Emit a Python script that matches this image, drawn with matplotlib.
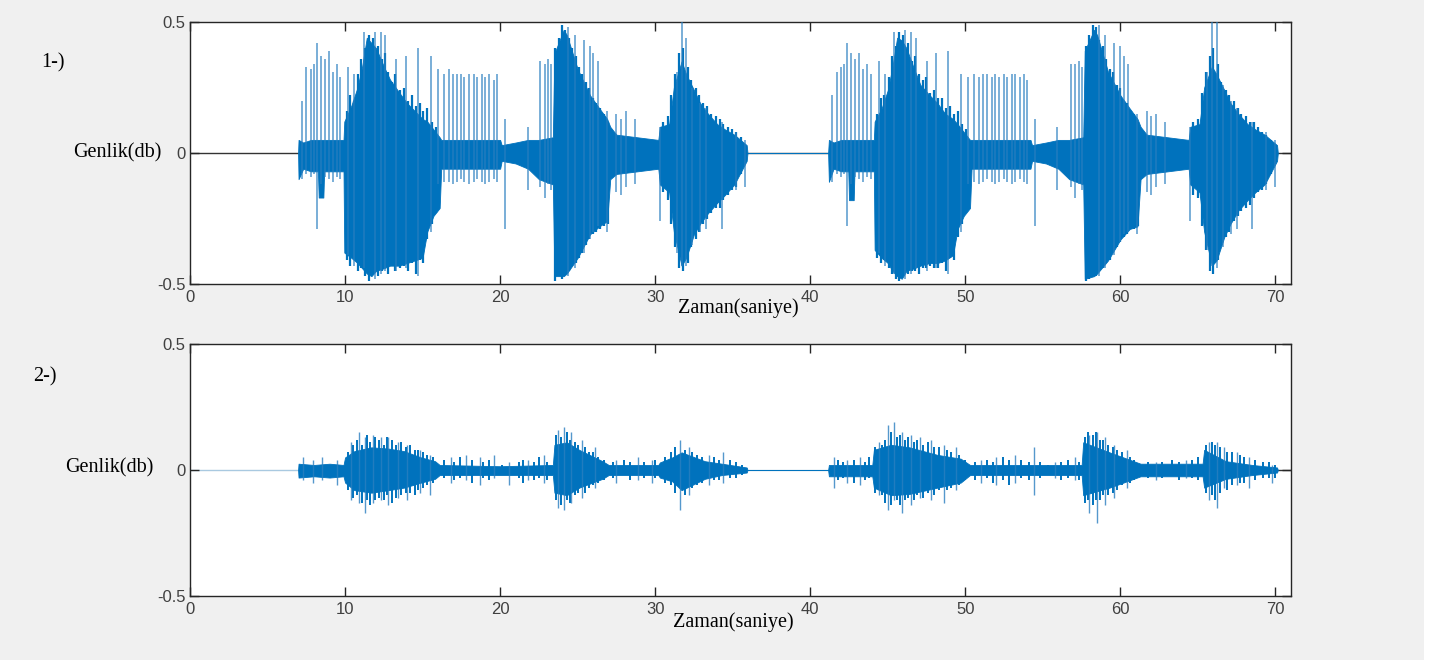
import numpy as np
import matplotlib
matplotlib.use("Agg")
import matplotlib.pyplot as plt

## DATA ##

# upper panel (1-): envelope of the dense part of the signal
top_env_t = [6.97, 7.00, 7.30, 7.80, 8.25, 8.30, 8.60, 8.65, 9.90, 9.95, 10.4, 10.8, 11.1, 11.4, 11.7,
             12.0, 12.5, 12.9, 13.5, 14.0, 14.5, 15.0, 15.3, 15.7, 16.1, 16.2, 20.0, 20.1, 21.0, 21.8,
             22.5, 23.4, 23.5, 24.1, 24.3, 25.0, 25.8, 26.4, 26.9, 27.1, 27.5, 30.2, 30.3, 30.9, 31.2,
             31.7, 32.0, 32.5, 32.9, 33.4, 34.0, 34.5, 35.1, 35.9, 35.95,
             41.15, 41.20, 41.50, 42.00, 42.45, 42.50, 42.80, 42.85, 44.10, 44.15, 44.6, 45.0, 45.3,
             45.6, 45.9, 46.2, 46.7, 47.1, 47.7, 48.2, 48.7, 49.2, 49.5, 49.9, 50.3, 50.4, 54.2, 54.3,
             55.2, 56.0, 56.7, 57.6, 57.7, 58.3, 58.5, 59.2, 60.0, 60.6, 61.1, 61.3, 61.7, 64.4, 64.5,
             65.1, 65.4, 65.9, 66.2, 66.7, 67.1, 67.6, 68.2, 68.7, 69.3, 70.1, 70.15]
top_env_hi = [0.00, 0.05, 0.04, 0.05, 0.05, 0.05, 0.05, 0.05, 0.05, 0.12, 0.18, 0.25, 0.33, 0.44, 0.42,
              0.40, 0.33, 0.28, 0.23, 0.19, 0.16, 0.13, 0.12, 0.09, 0.06, 0.05, 0.05, 0.03, 0.04, 0.05,
              0.05, 0.06, 0.38, 0.47, 0.45, 0.32, 0.22, 0.17, 0.13, 0.10, 0.07, 0.05, 0.10, 0.11, 0.25,
              0.35, 0.30, 0.24, 0.19, 0.15, 0.11, 0.09, 0.07, 0.03, 0.00,
              0.00, 0.05, 0.04, 0.05, 0.05, 0.05, 0.05, 0.05, 0.05, 0.12, 0.17, 0.24, 0.33,
              0.44, 0.43, 0.40, 0.32, 0.26, 0.22, 0.19, 0.15, 0.13, 0.11, 0.08, 0.05, 0.05, 0.05, 0.03,
              0.04, 0.05, 0.05, 0.06, 0.39, 0.47, 0.45, 0.31, 0.22, 0.17, 0.13, 0.10, 0.07, 0.05, 0.10,
              0.11, 0.25, 0.33, 0.30, 0.24, 0.19, 0.15, 0.11, 0.09, 0.07, 0.03, 0.00]
top_env_lo = [0.00, -0.10, -0.06, -0.07, -0.07, -0.17, -0.17, -0.07, -0.07, -0.38, -0.40, -0.42, -0.44, -0.46, -0.47,
              -0.45, -0.44, -0.43, -0.43, -0.42, -0.41, -0.40, -0.30, -0.24, -0.21, -0.06, -0.06, -0.03, -0.04, -0.06,
              -0.10, -0.12, -0.47, -0.47, -0.46, -0.40, -0.31, -0.28, -0.26, -0.10, -0.08, -0.06, -0.12, -0.15, -0.30,
              -0.43, -0.40, -0.31, -0.27, -0.23, -0.19, -0.16, -0.12, -0.03, 0.00,
              0.00, -0.11, -0.06, -0.07, -0.07, -0.18, -0.18, -0.07, -0.07, -0.37, -0.40, -0.42, -0.45,
              -0.47, -0.48, -0.45, -0.44, -0.43, -0.42, -0.42, -0.41, -0.39, -0.29, -0.24, -0.21, -0.06, -0.06, -0.03,
              -0.04, -0.06, -0.10, -0.12, -0.48, -0.47, -0.46, -0.41, -0.33, -0.29, -0.28, -0.10, -0.08, -0.06, -0.12,
              -0.15, -0.30, -0.43, -0.41, -0.32, -0.27, -0.22, -0.18, -0.15, -0.12, -0.03, 0.00]

# upper panel: single tall spikes sticking out of the envelope
top_spk_t = [7.2, 7.5, 7.8, 8.0, 8.2, 8.45, 8.7, 8.95, 9.2, 9.45, 9.7, 10.2, 10.6, 11.2, 11.9, 12.3, 12.6,
             13.3, 13.9, 14.7, 15.55, 16.0, 16.35, 16.7, 16.96, 17.2, 17.5, 17.7, 18.0, 18.3, 18.5, 18.8,
             19.0, 19.3, 19.6, 19.8, 20.3, 21.8, 22.6, 22.9, 23.1, 23.3, 24.4, 24.8, 25.4, 25.8, 26.0,
             26.3, 26.9, 27.5, 27.8, 28.1, 28.7, 30.3, 31.4, 31.7, 32.0, 32.4, 32.9, 33.3, 34.3, 35.2, 35.8,
             41.4, 41.7, 42.0, 42.2, 42.4, 42.65, 42.9, 43.15, 43.4, 43.65, 43.9, 44.4, 44.8, 45.4, 46.1,
             46.5, 46.8, 47.5, 48.1, 48.9, 49.75, 50.2, 50.55, 50.9, 51.15, 51.4, 51.7, 51.9, 52.2, 52.5,
             52.7, 53.0, 53.2, 53.5, 53.8, 54.0, 54.5, 55.9, 56.8, 57.1, 57.3, 57.5, 58.6, 59.0, 59.6,
             60.0, 60.2, 60.5, 61.1, 61.7, 62.0, 62.3, 62.9, 64.5, 65.6, 65.9, 66.2, 66.6, 67.1, 67.5,
             68.5, 69.4, 70.0]
top_spk_hi = [0.20, 0.33, 0.32, 0.34, 0.42, 0.37, 0.36, 0.39, 0.31, 0.34, 0.29, 0.33, 0.30, 0.46, 0.46, 0.46, 0.45,
              0.36, 0.37, 0.40, 0.37, 0.32, 0.30, 0.32, 0.30, 0.30, 0.30, 0.29, 0.30, 0.30, 0.29, 0.30,
              0.29, 0.30, 0.28, 0.30, 0.13, 0.10, 0.35, 0.34, 0.36, 0.34, 0.48, 0.45, 0.43, 0.41, 0.38,
              0.35, 0.16, 0.15, 0.13, 0.16, 0.13, 0.10, 0.31, 0.50, 0.44, 0.25, 0.19, 0.17, 0.12, 0.08, 0.05,
              0.22, 0.31, 0.33, 0.34, 0.42, 0.38, 0.36, 0.38, 0.32, 0.34, 0.30, 0.35, 0.30, 0.46, 0.47,
              0.46, 0.44, 0.35, 0.38, 0.39, 0.30, 0.29, 0.30, 0.29, 0.30, 0.30, 0.29, 0.30, 0.29, 0.30,
              0.29, 0.30, 0.30, 0.29, 0.30, 0.28, 0.13, 0.10, 0.34, 0.34, 0.35, 0.33, 0.49, 0.45, 0.42,
              0.41, 0.37, 0.34, 0.15, 0.16, 0.14, 0.15, 0.12, 0.10, 0.31, 0.50, 0.50, 0.26, 0.20, 0.17,
              0.12, 0.08, 0.05]
top_spk_lo = [-0.10, -0.08, -0.09, -0.08, -0.29, -0.12, -0.09, -0.10, -0.11, -0.09, -0.10, -0.39, -0.43, -0.44, -0.48, -0.46, -0.45,
              -0.45, -0.44, -0.47, -0.30, -0.12, -0.11, -0.11, -0.12, -0.11, -0.10, -0.11, -0.12, -0.11, -0.10, -0.11,
              -0.12, -0.11, -0.10, -0.11, -0.29, -0.14, -0.13, -0.17, -0.12, -0.14, -0.47, -0.44, -0.38, -0.33, -0.30,
              -0.28, -0.30, -0.15, -0.16, -0.13, -0.12, -0.26, -0.38, -0.43, -0.43, -0.35, -0.30, -0.29, -0.29, -0.14, -0.13,
              -0.11, -0.08, -0.09, -0.08, -0.28, -0.12, -0.09, -0.10, -0.11, -0.09, -0.10, -0.38, -0.43, -0.46, -0.48,
              -0.46, -0.44, -0.45, -0.44, -0.46, -0.30, -0.12, -0.11, -0.12, -0.11, -0.10, -0.11, -0.12, -0.11, -0.10,
              -0.11, -0.12, -0.11, -0.10, -0.11, -0.12, -0.28, -0.14, -0.13, -0.17, -0.12, -0.14, -0.47, -0.44, -0.39,
              -0.34, -0.31, -0.30, -0.31, -0.15, -0.16, -0.13, -0.12, -0.26, -0.37, -0.43, -0.44, -0.36, -0.31, -0.29,
              -0.29, -0.14, -0.13]

# upper panel: denser streaks inside the six bursts (ragged edges)
top_fine_t = [10.1, 10.35, 10.55, 10.85, 11.05, 11.3, 11.55, 11.8, 12.1, 12.35, 12.55, 12.8, 13.05, 13.25,
              13.55, 13.8, 14.05, 14.3, 14.55, 14.8, 15.05, 15.3, 15.6, 15.85,
              23.55, 23.8, 24.0, 24.2, 24.45, 24.65, 24.9, 25.1, 25.3, 25.55, 25.75, 26.0, 26.2, 26.45, 26.7, 26.95,
              30.5, 30.8, 31.05, 31.3, 31.55, 31.8, 32.1, 32.3, 32.6, 32.8, 33.1, 33.35, 33.6, 33.9, 34.15,
              34.4, 34.7, 34.95, 35.2, 35.5,
              44.3, 44.55, 44.75, 45.05, 45.25, 45.5, 45.75, 46.0, 46.3, 46.55, 46.75, 47.0, 47.25, 47.45,
              47.75, 48.0, 48.25, 48.5, 48.75, 49.0, 49.25, 49.5, 49.8, 50.05,
              57.75, 58.0, 58.2, 58.4, 58.65, 58.85, 59.1, 59.3, 59.5, 59.75, 59.95, 60.2, 60.4, 60.65, 60.9, 61.15,
              64.7, 65.0, 65.25, 65.5, 65.75, 66.0, 66.3, 66.5, 66.8, 67.0, 67.3, 67.55, 67.8, 68.1, 68.35,
              68.6, 68.9, 69.15, 69.4, 69.7]
top_fine_hi = [0.16, 0.22, 0.20, 0.30, 0.36, 0.40, 0.45, 0.44, 0.41, 0.36, 0.38, 0.31, 0.27, 0.30,
               0.24, 0.25, 0.20, 0.22, 0.18, 0.19, 0.16, 0.17, 0.12, 0.10,
               0.40, 0.44, 0.49, 0.47, 0.44, 0.40, 0.37, 0.33, 0.30, 0.27, 0.25, 0.21, 0.19, 0.17, 0.15, 0.12,
               0.12, 0.14, 0.22, 0.30, 0.38, 0.40, 0.33, 0.28, 0.25, 0.22, 0.19, 0.18, 0.15, 0.14, 0.13,
               0.11, 0.10, 0.09, 0.08, 0.06,
               0.15, 0.21, 0.22, 0.29, 0.37, 0.41, 0.46, 0.45, 0.42, 0.35, 0.37, 0.30, 0.28, 0.29,
               0.23, 0.24, 0.21, 0.21, 0.17, 0.18, 0.15, 0.16, 0.11, 0.09,
               0.41, 0.45, 0.49, 0.48, 0.43, 0.41, 0.36, 0.32, 0.31, 0.26, 0.25, 0.20, 0.19, 0.16, 0.15, 0.12,
               0.12, 0.13, 0.23, 0.31, 0.37, 0.40, 0.34, 0.27, 0.24, 0.22, 0.20, 0.17, 0.15, 0.14, 0.12,
               0.12, 0.10, 0.08, 0.07, 0.05]
top_fine_lo = [-0.41, -0.43, -0.40, -0.45, -0.44, -0.47, -0.49, -0.46, -0.47, -0.45, -0.44, -0.46, -0.43, -0.45,
               -0.44, -0.43, -0.45, -0.42, -0.46, -0.41, -0.42, -0.33, -0.27, -0.23,
               -0.49, -0.47, -0.48, -0.46, -0.45, -0.43, -0.42, -0.40, -0.38, -0.35, -0.33, -0.31, -0.30, -0.29, -0.28, -0.27,
               -0.15, -0.18, -0.27, -0.36, -0.44, -0.45, -0.42, -0.36, -0.33, -0.30, -0.27, -0.25, -0.23, -0.21, -0.21,
               -0.18, -0.16, -0.14, -0.13, -0.08,
               -0.40, -0.42, -0.41, -0.44, -0.46, -0.48, -0.49, -0.47, -0.46, -0.45, -0.45, -0.46, -0.44, -0.44,
               -0.43, -0.44, -0.44, -0.42, -0.45, -0.40, -0.41, -0.32, -0.27, -0.22,
               -0.49, -0.48, -0.47, -0.47, -0.45, -0.44, -0.42, -0.41, -0.37, -0.36, -0.34, -0.32, -0.31, -0.29, -0.29, -0.28,
               -0.16, -0.17, -0.28, -0.37, -0.45, -0.46, -0.41, -0.35, -0.32, -0.30, -0.26, -0.24, -0.22, -0.21, -0.20,
               -0.17, -0.15, -0.14, -0.12, -0.08]

# lower panel (2-): envelope
bot_env_t = [6.97, 7.0, 8.0, 9.0, 9.9, 10.0, 10.6, 11.7, 12.8, 13.8, 14.9, 15.8, 16.1, 20.0, 23.4, 23.5,
             24.3, 25.1, 26.6, 27.0, 30.2, 30.3, 31.1, 31.7, 33.2, 34.3, 35.9, 35.95,
             41.15, 41.2, 44.0, 44.1, 45.2, 46.4, 48.2, 49.7, 50.3, 57.5, 57.6, 59.3, 61.3, 65.3, 65.4,
             66.8, 68.5, 70.1, 70.15]
bot_env_hi = [0.0, 0.025, 0.02, 0.025, 0.02, 0.05, 0.075, 0.09, 0.085, 0.075, 0.05, 0.035, 0.02, 0.015, 0.02, 0.10,
              0.11, 0.08, 0.035, 0.02, 0.02, 0.03, 0.05, 0.07, 0.035, 0.025, 0.01, 0.0,
              0.0, 0.02, 0.02, 0.08, 0.10, 0.09, 0.06, 0.045, 0.02, 0.02, 0.11, 0.07, 0.025, 0.025, 0.08,
              0.035, 0.02, 0.01, 0.0]
bot_env_lo = [0.0, -0.03, -0.025, -0.03, -0.025, -0.05, -0.08, -0.09, -0.08, -0.07, -0.05, -0.035, -0.02, -0.02, -0.02, -0.09,
              -0.10, -0.07, -0.035, -0.02, -0.02, -0.03, -0.045, -0.08, -0.035, -0.02, -0.01, 0.0,
              0.0, -0.025, -0.025, -0.07, -0.10, -0.095, -0.07, -0.05, -0.02, -0.02, -0.10, -0.07, -0.025, -0.025, -0.07,
              -0.035, -0.02, -0.01, 0.0]

# lower panel: spikes
bot_spk_t = [7.3, 7.9, 8.5, 9.5, 10.4, 10.9, 11.3, 11.8, 12.3, 12.8, 13.4, 14.0, 14.8, 15.5, 16.8, 17.8,
             18.7, 19.6, 20.6, 21.8, 22.8, 23.7, 24.1, 24.6, 25.3, 26.1, 27.5, 28.9, 29.8, 31.6, 32.2,
             33.5, 34.4, 41.5, 42.4, 43.2, 44.4, 45.0, 45.4, 45.9, 46.5, 47.1, 47.8, 48.6, 49.4, 51.0,
             52.0, 53.2, 54.4, 55.8, 57.1, 58.0, 58.5, 59.0, 59.6, 60.4, 62.3, 64.2, 65.7, 66.2, 66.7,
             67.5, 68.3, 69.8]
bot_spk_hi = [0.05, 0.04, 0.05, 0.04, 0.11, 0.15, 0.13, 0.14, 0.13, 0.13, 0.11, 0.10, 0.08, 0.06, 0.05, 0.06,
              0.05, 0.06, 0.03, 0.04, 0.06, 0.16, 0.17, 0.15, 0.12, 0.09, 0.04, 0.05, 0.04, 0.12, 0.09,
              0.06, 0.07, 0.05, 0.04, 0.05, 0.11, 0.18, 0.19, 0.15, 0.14, 0.13, 0.12, 0.10, 0.09, 0.04,
              0.05, 0.06, 0.09, 0.03, 0.05, 0.14, 0.15, 0.13, 0.10, 0.08, 0.03, 0.04, 0.11, 0.11, 0.09,
              0.07, 0.05, 0.02]
bot_spk_lo = [-0.04, -0.05, -0.04, -0.06, -0.12, -0.13, -0.17, -0.13, -0.12, -0.14, -0.11, -0.12, -0.09, -0.10, -0.05, -0.04,
              -0.06, -0.03, -0.06, -0.04, -0.05, -0.15, -0.16, -0.13, -0.11, -0.07, -0.05, -0.04, -0.05, -0.16, -0.10,
              -0.06, -0.05, -0.07, -0.05, -0.06, -0.10, -0.16, -0.12, -0.17, -0.14, -0.11, -0.12, -0.13, -0.08, -0.05,
              -0.06, -0.05, -0.10, -0.03, -0.04, -0.17, -0.21, -0.14, -0.11, -0.07, -0.04, -0.03, -0.12, -0.15, -0.07,
              -0.06, -0.07, -0.05]

# lower panel: denser small streaks
bot_fine_t = [10.2, 10.5, 10.8, 11.1, 11.4, 11.6, 11.9, 12.2, 12.5, 12.7, 13.0, 13.3, 13.6, 13.9, 14.2, 14.5,
              14.7, 15.0, 15.3, 15.7, 16.4, 17.0, 17.4, 18.2, 18.9, 19.3, 20.1, 21.2, 21.5, 22.2, 22.5, 23.0,
              23.6, 23.9, 24.3, 24.5, 24.8, 25.0, 25.5, 25.7, 26.0, 26.3, 26.7, 27.3, 28.0, 28.4, 29.3, 30.0,
              30.6, 31.0, 31.3, 31.9, 32.4, 32.7, 33.0, 33.8, 34.1, 34.8, 35.2, 35.6,
              41.8, 42.1, 42.8, 43.5, 43.8, 44.2, 44.6, 44.8, 45.2, 45.6, 45.8, 46.1, 46.3, 46.7, 46.9, 47.3,
              47.6, 48.0, 48.3, 48.8, 49.1, 49.6, 50.0, 50.6, 51.4, 51.8, 52.4, 52.8, 53.6, 54.1, 54.8, 55.3,
              56.2, 56.6, 57.3, 57.7, 57.9, 58.2, 58.4, 58.7, 58.9, 59.2, 59.5, 59.8, 60.1, 60.6, 60.9, 61.8,
              62.7, 63.3, 63.8, 64.6, 65.0, 65.5, 65.9, 66.1, 66.4, 66.9, 67.2, 67.7, 68.0, 68.7, 69.2, 69.6, 70.0]
bot_fine_hi = [0.07, 0.10, 0.12, 0.10, 0.14, 0.11, 0.13, 0.12, 0.10, 0.13, 0.12, 0.10, 0.11, 0.09, 0.10, 0.08,
               0.08, 0.07, 0.06, 0.05, 0.04, 0.03, 0.05, 0.04, 0.03, 0.04, 0.02, 0.03, 0.04, 0.03, 0.05, 0.03,
               0.14, 0.13, 0.15, 0.12, 0.11, 0.10, 0.09, 0.07, 0.07, 0.05, 0.04, 0.03, 0.04, 0.03, 0.03, 0.04,
               0.05, 0.07, 0.09, 0.08, 0.07, 0.06, 0.05, 0.05, 0.04, 0.04, 0.03, 0.02,
               0.04, 0.03, 0.04, 0.03, 0.05, 0.09, 0.10, 0.12, 0.15, 0.13, 0.14, 0.12, 0.13, 0.11, 0.12, 0.10,
               0.11, 0.09, 0.09, 0.08, 0.07, 0.06, 0.04, 0.03, 0.04, 0.03, 0.05, 0.04, 0.04, 0.03, 0.03, 0.02,
               0.03, 0.04, 0.03, 0.13, 0.15, 0.14, 0.15, 0.12, 0.12, 0.10, 0.09, 0.08, 0.07, 0.05, 0.04, 0.03,
               0.03, 0.04, 0.03, 0.04, 0.05, 0.10, 0.11, 0.10, 0.09, 0.07, 0.07, 0.06, 0.05, 0.04, 0.03, 0.03, 0.02]
bot_fine_lo = [-0.08, -0.11, -0.10, -0.13, -0.12, -0.14, -0.12, -0.11, -0.12, -0.10, -0.13, -0.11, -0.10, -0.09, -0.09, -0.10,
               -0.08, -0.07, -0.06, -0.05, -0.03, -0.04, -0.03, -0.05, -0.03, -0.04, -0.02, -0.03, -0.05, -0.04, -0.03, -0.04,
               -0.12, -0.14, -0.12, -0.13, -0.10, -0.09, -0.09, -0.07, -0.06, -0.05, -0.04, -0.03, -0.02, -0.04, -0.03, -0.03,
               -0.05, -0.06, -0.09, -0.10, -0.07, -0.06, -0.05, -0.04, -0.04, -0.03, -0.03, -0.02,
               -0.04, -0.03, -0.05, -0.04, -0.03, -0.09, -0.10, -0.13, -0.14, -0.12, -0.14, -0.12, -0.11, -0.12, -0.10, -0.11,
               -0.09, -0.10, -0.08, -0.08, -0.07, -0.06, -0.04, -0.04, -0.03, -0.05, -0.04, -0.06, -0.03, -0.04, -0.03, -0.02,
               -0.04, -0.03, -0.04, -0.13, -0.12, -0.14, -0.12, -0.12, -0.10, -0.10, -0.09, -0.08, -0.06, -0.05, -0.04, -0.03,
               -0.03, -0.02, -0.04, -0.03, -0.04, -0.09, -0.10, -0.12, -0.09, -0.08, -0.06, -0.05, -0.05, -0.04, -0.03, -0.03, -0.03]

x_ticks = [0, 10, 20, 30, 40, 50, 60, 70]
y_ticks = [-0.5, 0, 0.5]
y_tick_labels = ['-0.5', '0', '0.5']

BLUE = '#0072BD'
BG = '#f0f0f0'

fig = plt.figure(figsize=(14.35, 6.6), dpi=100)
fig.patch.set_facecolor(BG)
# thin white strip on the right edge of the screenshot
fig.patches.append(plt.Rectangle((1424/1435, 0), 11/1435, 1, transform=fig.transFigure,
                                 facecolor='white', edgecolor='none', zorder=0))


def style_axes(ax):
    ax.set_xlim(0, 71)
    ax.set_ylim(-0.5, 0.5)
    ax.set_xticks(x_ticks)
    ax.set_xticklabels([str(v) for v in x_ticks])
    ax.set_yticks(y_ticks)
    ax.set_yticklabels(y_tick_labels)
    ax.tick_params(direction='in', length=6.5, width=1, top=True, right=True,
                   labelsize=12, labelcolor='#404040', color='#262626')
    ax.tick_params(axis='x', pad=4)
    ax.tick_params(axis='y', pad=3)
    for lbl in ax.get_xticklabels() + ax.get_yticklabels():
        lbl.set_fontfamily('Liberation Sans')
    for s in ax.spines.values():
        s.set_color('#262626')
        s.set_linewidth(1.0)


# panel 1
ax1 = fig.add_axes([190/1435, 1-284/660, 1101/1435, 262/660])
ax1.plot([0, 71], [0, 0], color='#333333', lw=1, zorder=1)
ax1.fill_between(top_env_t, top_env_lo, top_env_hi, color=BLUE, lw=0.6, edgecolor=BLUE, zorder=2)
ax1.vlines(top_fine_t, top_fine_lo, top_fine_hi, color=BLUE, lw=1.6, zorder=2)
ax1.vlines(top_spk_t, top_spk_lo, top_spk_hi, color='#2a7fc0', lw=1.1, alpha=0.8, zorder=3)
style_axes(ax1)

# panel 2
ax2 = fig.add_axes([190/1435, 1-596/660, 1101/1435, 252/660])
ax2.plot([0, 70], [0, 0], color='#a9c9e0', lw=1, zorder=1)
ax2.plot([70, 71], [0, 0], color='#333333', lw=1, zorder=1)
ax2.fill_between(bot_env_t, bot_env_lo, bot_env_hi, color=BLUE, lw=0.6, edgecolor=BLUE, zorder=2)
ax2.vlines(bot_fine_t, bot_fine_lo, bot_fine_hi, color=BLUE, lw=1.4, zorder=2)
ax2.vlines(bot_spk_t, bot_spk_lo, bot_spk_hi, color='#2a7fc0', lw=1.0, alpha=0.8, zorder=3)
style_axes(ax2)

serif = dict(family='Liberation Serif', fontsize=14.5, color='black', va='center')
fig.text(53/1435, 1-63/660, '1-)', ha='center', **serif)
fig.text(161/1435, 1-153/660, 'Genlik(db)', ha='right', **serif)
fig.text(738/1435, 1-308/660, 'Zaman(saniye)', ha='center', **serif)
fig.text(45/1435, 1-377/660, '2-)', ha='center', **serif)
fig.text(154/1435, 1-468/660, 'Genlik(db)', ha='right', **serif)
fig.text(733/1435, 1-622/660, 'Zaman(saniye)', ha='center', **serif)

fig.savefig('out.png', dpi=100, facecolor=fig.get_facecolor())
